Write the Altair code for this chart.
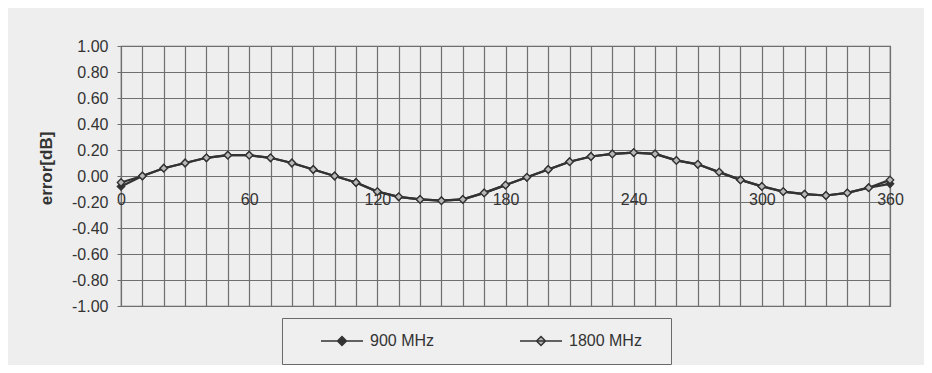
import altair as alt
import pandas as pd

angles = list(range(0, 361, 10))
err_900 = [-0.08, 0.00, 0.06, 0.10, 0.14, 0.16, 0.16, 0.14, 0.10, 0.05,
           0.00, -0.05, -0.12, -0.16, -0.18, -0.19, -0.18, -0.13, -0.07, -0.01,
           0.05, 0.11, 0.15, 0.17, 0.18, 0.17, 0.12, 0.09, 0.03, -0.03,
           -0.08, -0.12, -0.14, -0.15, -0.13, -0.09, -0.06]
err_1800 = [-0.05, 0.00, 0.06, 0.10, 0.14, 0.16, 0.16, 0.14, 0.10, 0.05,
            0.00, -0.05, -0.12, -0.16, -0.18, -0.19, -0.18, -0.13, -0.07, -0.01,
            0.05, 0.11, 0.15, 0.17, 0.18, 0.17, 0.12, 0.09, 0.03, -0.03,
            -0.08, -0.12, -0.14, -0.15, -0.13, -0.09, -0.03]
series_names = ["900 MHz", "1800 MHz"]
y_ticks = [round(-1 + 0.2 * i, 2) for i in range(11)]
x_grid = list(range(0, 361, 10))

rows = []
for name, vals in zip(series_names, [err_900, err_1800]):
    for a, v in zip(angles, vals):
        rows.append({"angle": a, "error": v, "series": name})
df = pd.DataFrame(rows)

FONT = "Liberation Sans"
TXT = "#333333"
GRID = "#6f6f6f"
LINE = "#333333"
FS = 16

x_enc = alt.X("angle:Q", scale=alt.Scale(domain=[0, 360], nice=False),
              axis=alt.Axis(values=x_grid, title=None, grid=True, gridColor=GRID,
                            gridOpacity=1, gridWidth=1.2, ticks=False,
                            domain=True, domainColor=GRID, domainWidth=1.2,
                            offset=-130, labelPadding=15, labelFlush=False,
                            labelOverlap=False,
                            labelExpr="datum.value % 60 == 0 ? datum.label : ''",
                            labelFont=FONT, labelFontSize=FS, labelColor=TXT))
y_enc = alt.Y("error:Q", scale=alt.Scale(domain=[-1, 1], nice=False),
              axis=alt.Axis(values=y_ticks, title="error[dB]",
                            labelExpr="(datum.value < -0.001 ? '-' : '') + format(abs(datum.value), '.2f')",
                            grid=True, gridColor=GRID, gridOpacity=1, gridWidth=1.2,
                            tickSize=4, tickColor=GRID, domain=False,
                            labelPadding=9, labelFont=FONT, labelFontSize=FS,
                            labelColor=TXT, titleFont=FONT, titleFontSize=17,
                            titleFontWeight="bold", titleColor=TXT,
                            titleAngle=270, titleX=-75, titleY=122,
                            titleAlign="center", titleBaseline="middle"))

lines = alt.Chart(df).mark_line(color=LINE, strokeWidth=2.2).encode(
    x=x_enc, y=y_enc, detail="series:N")

points = alt.Chart(df).mark_point(shape="diamond", filled=True, size=55,
                                  stroke=LINE, strokeWidth=1.3, opacity=1).encode(
    x=x_enc, y=y_enc,
    fill=alt.Fill("series:N",
                  scale=alt.Scale(domain=series_names, range=["#333333", "#b8b8b8"]),
                  legend=alt.Legend(
                      title=" ", titleOrient="right", titlePadding=14,
                      orient="none", legendX=161, legendY=272,
                      direction="horizontal", columns=2, columnPadding=61,
                      symbolType="M3.2,0H11.6M7.4,-0.9L8.3,0L7.4,0.9L6.5,0Z",
                      symbolSize=100, symbolStrokeColor=LINE,
                      symbolStrokeWidth=1.5, labelOffset=57,
                      labelFont=FONT, labelFontSize=FS, labelColor=TXT,
                      strokeColor="#6a6a6a", padding=15, fillColor="#efefef")),
    order=alt.Order("series:N", sort="descending"))

chart = alt.layer(lines, points).properties(
    width=769, height=260,
    autosize=alt.AutoSizeParams(type="none"),
    padding={"left": 113, "top": 38, "right": 34, "bottom": 59},
    background="#eeeeee",
).configure_view(stroke="#6a6a6a", strokeWidth=1.2, fill="#eeeeee")

chart.save("out.html", embed_options={"renderer": "svg", "actions": False})
